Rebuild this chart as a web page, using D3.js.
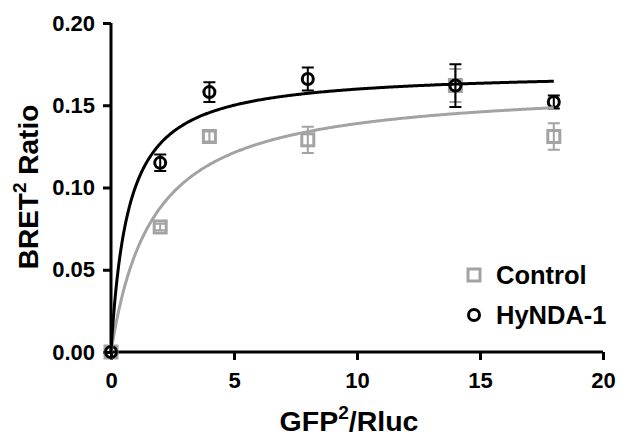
<!DOCTYPE html>
<html>
<head>
<meta charset="utf-8">
<script src="https://cdn.jsdelivr.net/npm/d3@7"></script>
<style>
  body { margin: 0; background: #fff; }
  svg text { font-family: "Liberation Sans", Arial, sans-serif; font-weight: bold; fill: #000; }
</style>
</head>
<body>
<svg width="621" height="443"></svg>
<script>
// ---------------------------------------------------------------------------
// Data.

var xValues = [0, 2, 4, 8, 14, 18];

var controlMean = [0, 0.076, 0.131, 0.129, 0.162, 0.131];
var controlErr  = [0, 0.002, 0.003, 0.008, 0.010, 0.008];

var hyndaMean = [0, 0.115, 0.158, 0.166, 0.162, 0.152];
var hyndaErr  = [0, 0.005, 0.006, 0.007, 0.013, 0.004];

// One-site hyperbolic fit (Bmax, Kd) for each series.
var fitBmax = [0.1626, 0.171];
var fitKd   = [1.71, 0.70];

var xTicks = [0, 5, 10, 15, 20];
var yTicks = [0, 0.05, 0.10, 0.15, 0.20];

var seriesNames = ["Control", "HyNDA-1"];

// ---------------------------------------------------------------------------
// Layout.

var grey = "#a3a3a3";

var svg = d3.select("svg");

var x = d3.scaleLinear().domain([0, 20]).range([111, 603]);
var y = d3.scaleLinear().domain([0, 0.20]).range([352, 23]);

// Axes
var xAxis = svg.append("g")
    .attr("transform", "translate(0,352)")
    .call(d3.axisBottom(x).tickValues(xTicks).tickSize(8).tickPadding(12).tickSizeOuter(0)
        .tickFormat(d3.format("d")));

var yAxis = svg.append("g")
    .attr("transform", "translate(111,0)")
    .call(d3.axisLeft(y).tickValues(yTicks).tickSize(8).tickPadding(8).tickSizeOuter(0)
        .tickFormat(d3.format(".2f")));

[xAxis, yAxis].forEach(function(a) {
    a.select(".domain").attr("stroke", "#000").attr("stroke-width", 3);
    a.selectAll(".tick line").attr("stroke", "#000").attr("stroke-width", 3);
    a.selectAll(".tick text").attr("font-size", 22).attr("fill", "#000");
});
// extend domain lines slightly to cover the line joins
xAxis.select(".domain").attr("d", "M" + (x(0) - 1.5) + ",0H" + x(20));
yAxis.select(".domain").attr("d", "M0," + (y(0) + 1.5) + "V" + y(0.20));

// Axis titles
var xt = svg.append("text")
    .attr("x", 349).attr("y", 431)
    .attr("text-anchor", "middle")
    .attr("font-size", 28.5);
xt.append("tspan").text("GFP");
xt.append("tspan").attr("font-size", 19).attr("dy", -12).text("2");
xt.append("tspan").attr("dy", 12).text("/Rluc");

var yt = svg.append("text")
    .attr("transform", "translate(38,187) rotate(-90)")
    .attr("text-anchor", "middle")
    .attr("font-size", 28);
yt.append("tspan").text("BRET");
yt.append("tspan").attr("font-size", 19).attr("dy", -12).text("2");
yt.append("tspan").attr("dy", 12).text(" Ratio");

// ---------------------------------------------------------------------------
// Series

var series = [
    { name: seriesNames[0], mean: controlMean, err: controlErr, color: grey, shape: "square" },
    { name: seriesNames[1], mean: hyndaMean, err: hyndaErr, color: "#000", shape: "circle" }
];

function drawMarker(g, shape, color, cx, cy) {
    if (shape === "square") {
        g.append("rect")
            .attr("x", cx - 6).attr("y", cy - 6)
            .attr("width", 12).attr("height", 12)
            .attr("fill", "none").attr("stroke", color).attr("stroke-width", 3);
    } else {
        g.append("circle")
            .attr("cx", cx).attr("cy", cy).attr("r", 5.5)
            .attr("fill", "none").attr("stroke", color).attr("stroke-width", 3);
    }
}

series.forEach(function(s) {
    var g = svg.append("g");
    xValues.forEach(function(xv, i) {
        var cx = x(xv);
        var top = y(s.mean[i] + s.err[i]);
        var bot = y(s.mean[i] - s.err[i]);
        if (s.err[i] > 0) {
            g.append("path")
                .attr("d", "M" + cx + "," + top + "V" + bot +
                           "M" + (cx - 6) + "," + top + "H" + (cx + 6) +
                           "M" + (cx - 6) + "," + bot + "H" + (cx + 6))
                .attr("fill", "none").attr("stroke", s.color).attr("stroke-width", 2);
        }
        drawMarker(g, s.shape, s.color, cx, y(s.mean[i]));
    });
});

// Fit curves
var line = d3.line().x(function(d) { return x(d[0]); }).y(function(d) { return y(d[1]); });
series.forEach(function(s, k) {
    var pts = d3.range(0, 18.0001, 0.05).map(function(xv) {
        return [xv, fitBmax[k] * xv / (fitKd[k] + xv)];
    });
    svg.append("path")
        .attr("d", line(pts))
        .attr("fill", "none")
        .attr("stroke", s.color)
        .attr("stroke-width", 3);
});

// Legend
var legend = svg.append("g");
series.forEach(function(s, i) {
    var ly = 275 + i * 40;
    drawMarker(legend, s.shape, s.color, 474, ly);
    legend.append("text")
        .attr("x", 496).attr("y", ly + 9)
        .attr("font-size", 25.5)
        .text(s.name);
});
</script>
</body>
</html>
